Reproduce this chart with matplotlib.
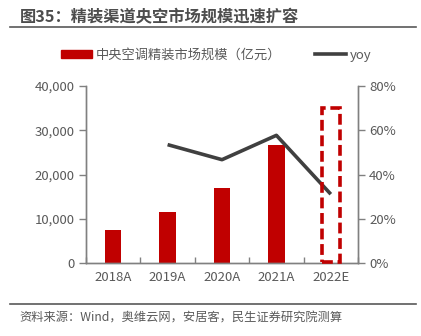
import matplotlib
matplotlib.use("Agg")
import matplotlib.pyplot as plt
from matplotlib.patches import Rectangle
from matplotlib.lines import Line2D
import numpy as np

plt.rcParams['font.family'] = ['Noto Sans CJK SC', 'DejaVu Sans']

categories = ["2018A", "2019A", "2020A", "2021A", "2022E"]
market_size = [7550, 11620, 16950, 26760, 0]
yoy = [np.nan, 53.5, 46.7, 57.7, 31.1]
highlight_top = 70.2
left_ticks = [0, 10000, 20000, 30000, 40000]
right_ticks = [0, 20, 40, 60, 80]

RED = "#C00000"
LINE = "#404040"
TXT = "#595959"
SP = "#808080"

fig = plt.figure(figsize=(4.21, 3.36), dpi=100)
W, H = 421, 336
ax = fig.add_axes([86 / W, 1 - 263 / H, 272 / W, 177 / H])
ax2 = ax.twinx()

x = np.arange(len(categories))
ax.bar(x, market_size, width=0.305, color=RED, zorder=2)
ax.set_xlim(-0.5, len(categories) - 0.5)
ax.set_ylim(0, 40000)
ax.set_yticks(left_ticks)
ax.set_yticklabels([f"{v:,}" for v in left_ticks])

ax2.plot(x, yoy, color=LINE, lw=2.6, solid_capstyle='butt', zorder=3)
ax2.set_ylim(0, 80)
ax2.set_yticks(right_ticks)
ax2.set_yticklabels([f"{v}%" for v in right_ticks])

rect = Rectangle((4 - 0.165, 0.4), 0.33, highlight_top - 0.4, fill=False,
                 edgecolor=RED, lw=2.6, linestyle=(0, (3, 1.3)), zorder=4, clip_on=False)
ax2.add_patch(rect)

ax.set_xticks(np.arange(-0.5, len(categories)), minor=False)
ax.set_xticklabels([])
ax.set_xticks(x, minor=True)
ax.set_xticklabels(categories, minor=True)
ax.tick_params(axis='x', which='minor', length=0, pad=6, labelsize=9.5, labelcolor=TXT)
ax.tick_params(axis='x', which='major', length=4, direction='in', color=SP, width=1)
ax.tick_params(axis='y', length=5, direction='out', color=SP, labelsize=9.5, labelcolor=TXT, pad=3, width=1)
ax2.tick_params(axis='y', length=5, direction='out', color=SP, labelsize=9.5, labelcolor=TXT, pad=3, width=1)

for a in (ax, ax2):
    a.spines['top'].set_visible(False)
    for s in ('left', 'right', 'bottom'):
        a.spines[s].set_color(SP)
        a.spines[s].set_linewidth(1)

# legend
handles = [Rectangle((0, 0), 1, 1, color=RED), Line2D([0], [0], color=LINE, lw=2.6)]
fig.legend(handles, ["中央空调精装市场规模（亿元）", "yoy"], loc='center',
           bbox_to_anchor=(0.514, 1 - 55 / H), ncol=2, frameon=False, fontsize=9.5,
           labelcolor=TXT, handlelength=2.3, handleheight=0.5, columnspacing=2.6, handletextpad=0.3)

# title and footer
fig.text(20 / W, 1 - 17 / H, "图35：精装渠道央空市场规模迅速扩容", fontsize=11.7, fontweight='bold',
         color="#4D4D4D", va='center', ha='left')
fig.add_artist(Line2D([10 / W, 416 / W], [1 - 26.5 / H, 1 - 26.5 / H], color="#595959", lw=1.2))
fig.add_artist(Line2D([10 / W, 416 / W], [1 - 304 / H, 1 - 304 / H], color="#595959", lw=1.2))
fig.text(19 / W, 1 - 318 / H, "资料来源：Wind，奥维云网，安居客，民生证券研究院测算", fontsize=8.8,
         color=TXT, va='center', ha='left')

fig.savefig("out.png", dpi=100)
